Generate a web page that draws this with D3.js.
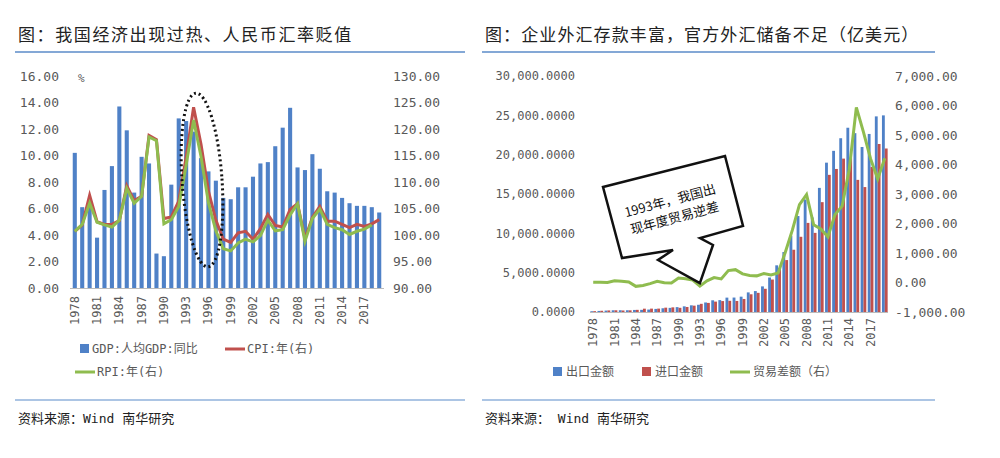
<!DOCTYPE html><html><head><meta charset="utf-8"><script src="https://cdn.jsdelivr.net/npm/d3@7"></script>
<style>body{margin:0;background:#fff}text{font-family:"DejaVu Sans Mono","Noto Sans CJK SC",monospace}text.t{font-family:"Noto Sans CJK SC",sans-serif}</style></head><body><svg id="c" width="1000" height="458"></svg>
<script>
const years=d3.range(1978,2020);
const gdp=[10.2,6.1,6.5,3.8,7.4,9.2,13.7,11.9,7.2,9.9,9.4,2.6,2.4,7.8,12.8,12.6,11.8,9.8,8.8,8.1,6.8,6.7,7.6,7.6,8.4,9.4,9.5,10.7,12.1,13.6,9.1,8.9,10.1,9.0,7.3,7.2,6.8,6.4,6.2,6.2,6.1,5.7];
const cpi=[100.7,101.9,107.5,102.5,102.0,102.0,102.7,109.3,106.5,107.3,118.8,118.0,103.1,103.4,106.4,114.7,124.1,117.1,108.3,102.8,99.2,98.6,100.4,100.7,99.2,101.2,103.9,101.8,101.5,104.8,105.9,99.3,103.3,105.4,102.6,102.6,102.0,101.4,102.0,101.6,102.1,102.9];
const rpi=[100.7,102.0,106.0,102.4,101.9,101.5,102.8,108.8,106.0,107.3,118.5,117.8,102.1,102.9,105.4,113.2,121.7,114.8,106.1,100.8,97.4,97.0,98.5,99.2,98.7,99.9,102.8,100.8,101.0,103.8,105.9,98.8,103.1,104.9,102.0,101.4,101.0,100.1,100.7,101.1,101.9,null];
const exportsV=[97.5,136.6,181.2,220.1,223.2,222.3,261.4,273.5,309.4,394.4,475.2,525.4,620.9,718.4,849.4,917.4,1210.1,1487.8,1510.5,1827.9,1837.1,1949.3,2492.0,2661.0,3256.0,4382.3,5933.3,7619.5,9689.8,12200.6,14306.9,12016.1,15777.5,18983.8,20487.1,22090.0,23422.9,22734.7,20976.3,22633.4,24867.0,24994.8];
const importsV=[108.9,156.7,200.2,220.2,192.9,213.9,274.1,422.5,429.1,432.2,552.7,591.4,533.5,637.9,805.9,1039.6,1156.1,1320.8,1388.3,1423.7,1402.4,1657.0,2250.9,2435.5,2951.7,4127.6,5612.3,6599.5,7914.6,9561.2,11325.6,10059.2,13962.4,17434.8,18184.1,19499.9,19592.3,16795.6,15879.3,18437.9,21357.5,20784.1];
const balance=[10,5,0,60,40,20,-130,-100,-40,40,-10,-20,150,130,80,-122,54,167,122,404,435,292,241,225,304,255,321,1020,1775,2639,2981,1957,1815,1549,2303,2590,3831,5939,5097,4196,3509,4211];
const leftTicks=d3.range(0,17,2), rightTicks=d3.range(90,131,5);
const tradeTicks=d3.range(0,30001,5000), balTicks=d3.range(-1000,7001,1000);
const yearLabels=years.filter((y,i)=>i%3===0);
const BLUE="#4f81c7",RED="#c0504d",GREEN="#8fbc4f",GREY="#595959";
const svg=d3.select("#c");
svg.append("text").attr("class","t").attr("x",18).attr("y",41).attr("font-size",17).attr("letter-spacing",1.6).attr("fill","#222").text("图：我国经济出现过热、人民币汇率贬值");
svg.append("text").attr("class","t").attr("x",485).attr("y",41).attr("font-size",17).attr("letter-spacing",1.1).attr("fill","#222").text("图：企业外汇存款丰富，官方外汇储备不足（亿美元）");
[[15,465],[482,935]].forEach(([a,b])=>{svg.append("line").attr("x1",a).attr("x2",b).attr("y1",52).attr("y2",52).attr("stroke","#5b8bc9").attr("stroke-width",1.5);
svg.append("line").attr("x1",a).attr("x2",b).attr("y1",400).attr("y2",400).attr("stroke","#5b8bc9").attr("stroke-width",1.2);});
svg.append("text").attr("x",18).attr("y",423).attr("font-size",13).attr("fill","#222").text("资料来源：Wind 南华研究");
svg.append("text").attr("x",485).attr("y",423).attr("font-size",13).attr("fill","#222").text("资料来源： Wind 南华研究");
const fmt2=d3.format(".2f"), fmtC=d=>d3.format(",.4f")(d), fmtB=d=>d3.format(",.2f")(d).replace("−","-");
function axisStyle(g,fs){g.select(".domain").remove();g.selectAll("line").remove();g.attr("font-family",null);g.selectAll("text").attr("fill",GREY).attr("font-size",fs||12);}
const xL=d3.scaleBand().domain(years).range([72,382]).paddingInner(0.45).paddingOuter(0.1);
const yL=d3.scaleLinear().domain([0,16]).range([288,76]);
const yR=d3.scaleLinear().domain([90,130]).range([288,76]);
const L=svg.append("g");
L.append("g").attr("transform","translate(62,0)").call(d3.axisLeft(yL).tickValues(leftTicks).tickFormat(fmt2).tickSize(0)).call(axisStyle,13);
L.append("g").attr("transform","translate(390,0)").call(d3.axisRight(yR).tickValues(rightTicks).tickFormat(fmt2).tickSize(0)).call(axisStyle,13);
L.append("text").attr("x",78).attr("y",82).attr("font-size",11).attr("fill",GREY).text("%");
L.selectAll(".b").data(gdp).join("rect").attr("x",(d,i)=>xL(years[i])).attr("width",xL.bandwidth()).attr("y",d=>yL(d)).attr("height",d=>288-yL(d)).attr("fill",BLUE);
L.append("line").attr("x1",70).attr("x2",384).attr("y1",288.5).attr("y2",288.5).attr("stroke","#bbb");
const cx=i=>xL(years[i])+xL.bandwidth()/2;
L.append("path").attr("d",d3.line().x((d,i)=>cx(i)).y(d=>yR(d))(cpi)).attr("fill","none").attr("stroke",RED).attr("stroke-width",3);
L.append("path").attr("d",d3.line().defined(d=>d!=null).x((d,i)=>cx(i)).y(d=>yR(d))(rpi)).attr("fill","none").attr("stroke",GREEN).attr("stroke-width",3);
L.append("ellipse").attr("cx",202).attr("cy",180).attr("rx",20).attr("ry",87).attr("transform","rotate(-4,202,180)").attr("fill","none").attr("stroke","#111").attr("stroke-width",3).attr("stroke-dasharray","2,3");
L.selectAll(".yl").data(yearLabels).join("text").attr("transform",d=>`translate(${xL(d)+xL.bandwidth()/2+4},296) rotate(-90)`).attr("text-anchor","end").attr("font-size",12).attr("fill",GREY).text(d=>d);
L.append("rect").attr("x",80).attr("y",344).attr("width",9).attr("height",9).attr("fill",BLUE);
L.append("text").attr("x",92).attr("y",353).attr("font-size",12).attr("fill",GREY).text("GDP:人均GDP:同比");
L.append("line").attr("x1",225).attr("x2",245).attr("y1",349).attr("y2",349).attr("stroke",RED).attr("stroke-width",3);
L.append("text").attr("x",247).attr("y",353).attr("font-size",12).attr("fill",GREY).text("CPI:年(右)");
L.append("line").attr("x1",75).attr("x2",95).attr("y1",372).attr("y2",372).attr("stroke",GREEN).attr("stroke-width",3);
L.append("text").attr("x",97).attr("y",376).attr("font-size",12).attr("fill",GREY).text("RPI:年(右)");
const xT=d3.scaleBand().domain(years).range([590,888]).paddingInner(0.2).paddingOuter(0.05);
const yT=d3.scaleLinear().domain([0,30000]).range([312,76]);
const yB=d3.scaleLinear().domain([-1000,7000]).range([312,76]);
const R=svg.append("g");
R.append("g").attr("transform","translate(578,0)").call(d3.axisLeft(yT).tickValues(tradeTicks).tickFormat(fmtC).tickSize(0)).call(axisStyle,12);
R.append("g").attr("transform","translate(892,0)").call(d3.axisRight(yB).tickValues(balTicks).tickFormat(fmtB).tickSize(0)).call(axisStyle,13);
const bw=xT.bandwidth()/2;
R.selectAll(".e").data(exportsV).join("rect").attr("x",(d,i)=>xT(years[i])).attr("width",bw).attr("y",d=>yT(d)).attr("height",d=>312-yT(d)).attr("fill",BLUE);
R.selectAll(".m").data(importsV).join("rect").attr("x",(d,i)=>xT(years[i])+bw).attr("width",bw).attr("y",d=>yT(d)).attr("height",d=>312-yT(d)).attr("fill",RED);
R.append("line").attr("x1",590).attr("x2",888).attr("y1",312.5).attr("y2",312.5).attr("stroke","#bbb");
R.append("path").attr("d",d3.line().x((d,i)=>xT(years[i])+xT.bandwidth()/2).y(d=>yB(d))(balance)).attr("fill","none").attr("stroke",GREEN).attr("stroke-width",3);
R.selectAll(".yl").data(yearLabels).join("text").attr("transform",d=>`translate(${xT(d)+xT.bandwidth()/2+4},318) rotate(-90)`).attr("text-anchor","end").attr("font-size",12).attr("fill",GREY).text(d=>d);
const tip=[xT(1993)+xT.bandwidth()/2,yB(-122)-3];
R.append("path").attr("d",`M603,187 L725,156 L743,226 L700,238 L713,245 L${tip[0]},${tip[1]} L658,260 L673,250 L622,258 Z`).attr("fill","#fff").attr("stroke","#111").attr("stroke-width",2.5);
const ct=R.append("text").attr("class","t").attr("transform","translate(672,208) rotate(-15)").attr("text-anchor","middle").attr("font-size",13).attr("fill","#111");
ct.append("tspan").attr("x",0).attr("dy",-3).text("1993年，我国出");
ct.append("tspan").attr("x",0).attr("dy",18).text("现年度贸易逆差");
R.append("rect").attr("x",553).attr("y",367).attr("width",9).attr("height",9).attr("fill",BLUE);
R.append("text").attr("x",566).attr("y",376).attr("font-size",12).attr("fill",GREY).text("出口金额");
R.append("rect").attr("x",642).attr("y",367).attr("width",9).attr("height",9).attr("fill",RED);
R.append("text").attr("x",655).attr("y",376).attr("font-size",12).attr("fill",GREY).text("进口金额");
R.append("line").attr("x1",730).attr("x2",750).attr("y1",372).attr("y2",372).attr("stroke",GREEN).attr("stroke-width",3);
R.append("text").attr("x",753).attr("y",376).attr("font-size",12).attr("fill",GREY).text("贸易差额（右）");
</script></body></html>
